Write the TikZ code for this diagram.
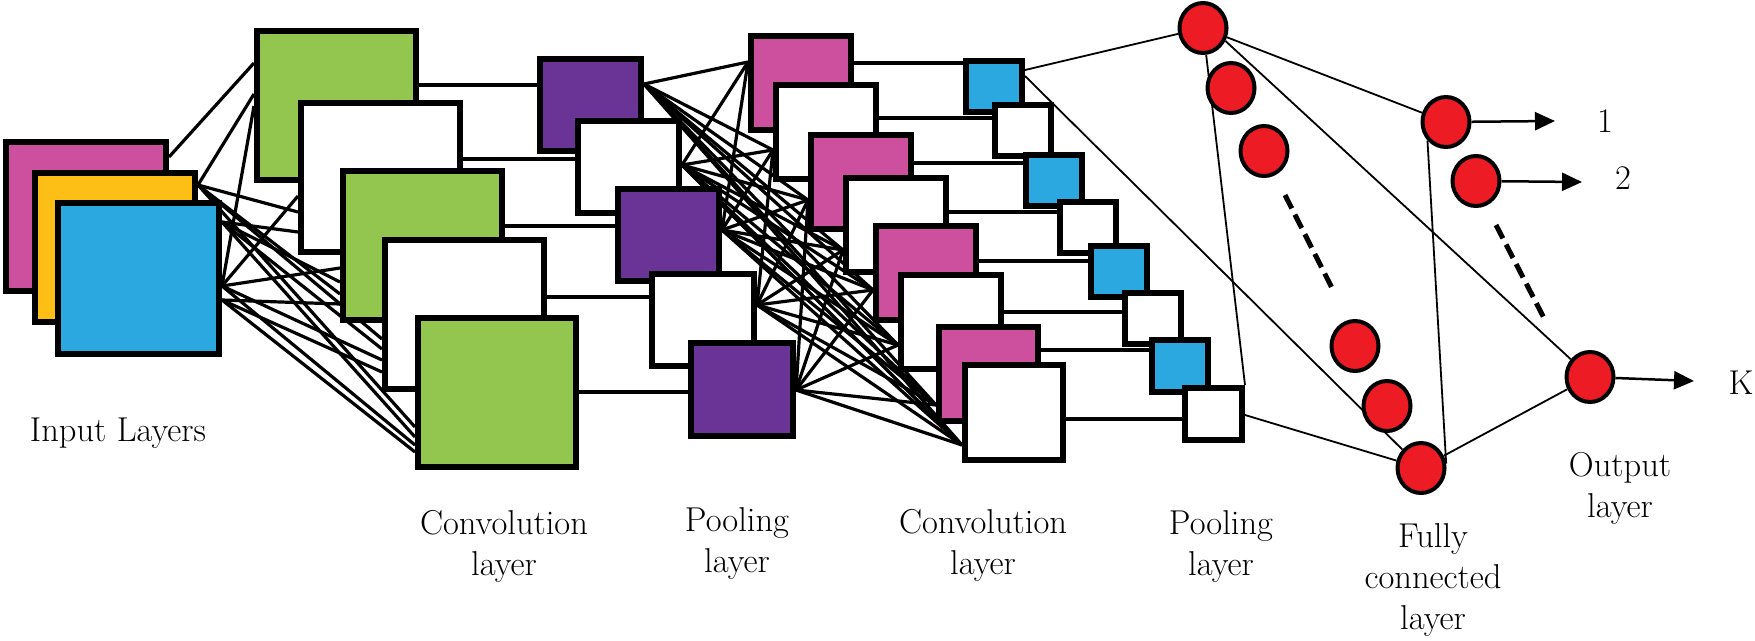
\documentclass[tikz,border=0pt]{standalone}
\usetikzlibrary{shapes.geometric,arrows.meta,calc,backgrounds}
\definecolor{cmag}{RGB}{205,80,158}
\definecolor{cyel}{RGB}{253,190,22}
\definecolor{cblue}{RGB}{44,168,224}
\definecolor{cgreen}{RGB}{146,198,78}
\definecolor{cpurp}{RGB}{106,52,150}
\definecolor{cred}{RGB}{237,28,36}
\newcommand{\bx}[6]{\node[box,fill=#6,minimum width=#4-6,minimum height=#5-6] (#1) at (#2,#3) {};}
\begin{document}
\begin{tikzpicture}[x=1pt,y=-1pt,
  box/.style={draw=black,line width=6pt,inner sep=0pt,anchor=north west},
  neuron/.style={ellipse,draw=black,fill=cred,line width=4pt,minimum width=47pt,minimum height=50pt,inner sep=0pt},
  wire/.style={line width=3.2pt},
  link/.style={line width=4pt},
  fcline/.style={line width=1.8pt},
  dotsline/.style={line width=5pt,dash pattern=on 15pt off 7pt},
  outarrow/.style={line width=2.5pt,-{Triangle[length=20pt,width=18pt]}},
  lbl/.style={font=\fontsize{34.5}{41}\selectfont,align=center,inner sep=0pt}]
\useasboundingbox (0,0) rectangle (1755,640);

% input layers
\bx{in1}{3}{139}{166}{155}{cmag}
\bx{in2}{32}{170}{166}{155}{cyel}
\bx{in3}{55}{200}{167}{157}{cblue}

% convolution layer 1
\bx{c1a}{254}{28}{165}{155}{cgreen}
\bx{c1b}{298}{100}{165}{155}{white}
\bx{c1c}{340}{168}{165}{155}{cgreen}
\bx{c1d}{382}{237}{165}{155}{white}
\bx{c1e}{415}{315}{164}{155}{cgreen}

% pooling layer 1
\bx{p1a}{537}{56}{107}{98}{cpurp}
\bx{p1b}{575}{118}{107}{98}{white}
\bx{p1c}{615}{186}{107}{98}{cpurp}
\bx{p1d}{649}{271}{108}{98}{white}
\bx{p1e}{688}{340}{108}{99}{cpurp}

% convolution layer 2
\bx{c2a}{748}{33}{106}{100}{cmag}
\bx{c2b}{773}{82}{106}{100}{white}
\bx{c2c}{808}{132}{106}{100}{cmag}
\bx{c2d}{843}{175}{106}{100}{white}
\bx{c2e}{873}{223}{106}{100}{cmag}
\bx{c2f}{898}{272}{106}{100}{white}
\bx{c2g}{936}{324}{105}{100}{cmag}
\bx{c2h}{962}{362}{104}{101}{white}

% pooling layer 2
\bx{p2a}{963}{58}{62}{57}{cblue}
\bx{p2b}{992}{102}{62}{57}{white}
\bx{p2c}{1023}{152}{62}{57}{cblue}
\bx{p2d}{1057}{199}{62}{57}{white}
\bx{p2e}{1088}{243}{62}{57}{cblue}
\bx{p2f}{1122}{290}{62}{57}{white}
\bx{p2g}{1149}{337}{62}{58}{cblue}
\bx{p2h}{1182}{385}{63}{58}{white}

% fully connected layer
\node[neuron] (f1) at (1203,28) {};
\node[neuron] (f2) at (1231,88) {};
\node[neuron] (f3) at (1264,151) {};
\node[neuron] (f4) at (1355,346) {};
\node[neuron] (f5) at (1387,406) {};
\node[neuron] (f6) at (1421,468) {};

% output layer
\node[neuron] (o1) at (1446,122) {};
\node[neuron] (o2) at (1476,181) {};
\node[neuron] (o3) at (1590,377) {};

\coordinate (d1s) at (1285,195);
\coordinate (d1e) at (1334,292);
\draw[dotsline] (d1s) -- (d1e);
\coordinate (d2s) at (1496,225);
\coordinate (d2e) at (1545,320);
\draw[dotsline] (d2s) -- (d2e);

\coordinate (a1) at (1555,121);
\coordinate (a2) at (1582,182);
\coordinate (a3) at (1694,381);
\draw[outarrow] (o1) -- (a1);
\draw[outarrow] (o2) -- (a2);
\draw[outarrow] (o3) -- (a3);
\node[lbl] (l1) at (1605,121) {1};
\node[lbl] (l2) at (1623,178) {2};
\node[lbl] (lk) at (1741,383) {K};

% labels
\node[lbl] (tin) at (118,433) {Input Layers};
\node[lbl] (tc1) at (504,546) {Convolution\\layer};
\node[lbl] (tp1) at (737,544) {Pooling\\layer};
\node[lbl] (tc2) at (983,545) {Convolution\\layer};
\node[lbl] (tp2) at (1221,547) {Pooling\\layer};
\node[lbl] (tfc) at (1433,580) {Fully\\connected\\layer};
\node[lbl] (tout) at (1620,488) {Output\\layer};

\begin{pgfonlayer}{background}
% input -> conv1
\coordinate (sA) at (in1.east |- 0,157);
\coordinate (sB) at (in2.east |- 0,185);
\coordinate (sC) at (in3.east |- 0,222);
\coordinate (sD) at (in3.east |- 0,286);
\coordinate (sE) at (in3.east |- 0,300);
\draw[wire] (sA) -- (c1a.west |- 0,63);
\draw[wire] (sB) -- (c1a.west |- 0,94);
\draw[wire] (sD) -- (c1a.west |- 0,106);
\draw[wire] (sD) -- (c1b.west |- 0,196);
\draw[wire] (sB) -- (c1b.west |- 0,212);
\draw[wire] (sC) -- (c1b.west |- 0,232);
\draw[wire] (sD) -- (c1c.west |- 0,268);
\draw[wire] (sC) -- (c1c.west |- 0,282);
\draw[wire] (sB) -- (c1c.west |- 0,294);
\draw[wire] (sE) -- (c1c.west |- 0,304);
\draw[wire] (sB) -- (c1d.west |- 0,339);
\draw[wire] (sC) -- (c1d.west |- 0,349);
\draw[wire] (sD) -- (c1d.west |- 0,360);
\draw[wire] (sE) -- (c1d.west |- 0,372);
\draw[wire] (sB) -- (c1e.west |- 0,427);
\draw[wire] (sC) -- (c1e.west |- 0,437);
\draw[wire] (sD) -- (c1e.west |- 0,445);
\draw[wire] (sE) -- (c1e.west |- 0,452);

% conv1 -> pool1
\draw[link] (c1a.east |- 0,85) -- (p1a.west |- 0,85);
\draw[link] (c1b.east |- 0,159) -- (p1b.west |- 0,159);
\draw[link] (c1c.east |- 0,226) -- (p1c.west |- 0,226);
\draw[link] (c1d.east |- 0,297) -- (p1d.west |- 0,297);
\draw[link] (c1e.east |- 0,392) -- (p1e.west |- 0,392);

% pool1 -> conv2
\coordinate (q1) at (p1a.east |- 0,84);
\coordinate (q2) at (p1b.east |- 0,165);
\coordinate (q3) at (p1c.east |- 0,230);
\coordinate (q4) at (p1d.east |- 0,305);
\coordinate (q5) at (p1e.east |- 0,390);
\coordinate (t1) at (c2a.west |- 0,62);
\coordinate (t2) at (c2b.west |- 0,150);
\coordinate (t3) at (c2c.west |- 0,200);
\coordinate (t4) at (c2d.west |- 0,250);
\coordinate (t5) at (c2e.west |- 0,290);
\coordinate (t6) at (c2f.west |- 0,345);
\coordinate (t7) at (c2g.west |- 0,405);
\coordinate (t8) at (c2h.west |- 0,445);
\foreach \s in {1,2,3}{\foreach \t in {1,...,8}{\draw[wire] (q\s) -- (t\t);}}
\foreach \t in {2,...,8}{\draw[wire] (q4) -- (t\t);}
\foreach \t in {3,...,8}{\draw[wire] (q5) -- (t\t);}

% conv2 -> pool2
\draw[link] (c2a.east |- 0,63) -- (p2a.west |- 0,63);
\draw[link] (c2b.east |- 0,118) -- (p2b.west |- 0,118);
\draw[link] (c2c.east |- 0,163) -- (p2c.west |- 0,163);
\draw[link] (c2d.east |- 0,212) -- (p2d.west |- 0,212);
\draw[link] (c2e.east |- 0,261) -- (p2e.west |- 0,261);
\draw[link] (c2f.east |- 0,312) -- (p2f.west |- 0,312);
\draw[link] (c2g.east |- 0,350) -- (p2g.west |- 0,350);
\draw[link] (c2h.east |- 0,419) -- (p2h.west |- 0,419);

% pool2 -> fully connected -> output
\draw[fcline] (p2a.east |- 0,70) -- (f1);
\draw[fcline] (p2a.east |- 0,76) -- (f6);
\draw[fcline] (p2h.east |- 0,415) -- (f6);
\draw[fcline] (f1) -- (p2h.north east);
\draw[fcline] (f1) -- (o1);
\draw[fcline] (f1.-30) -- (o3);
\draw[fcline] (f6.10) -- (o1.225);
\draw[fcline] (f6) -- (o3);
\end{pgfonlayer}
\end{tikzpicture}
\end{document}
